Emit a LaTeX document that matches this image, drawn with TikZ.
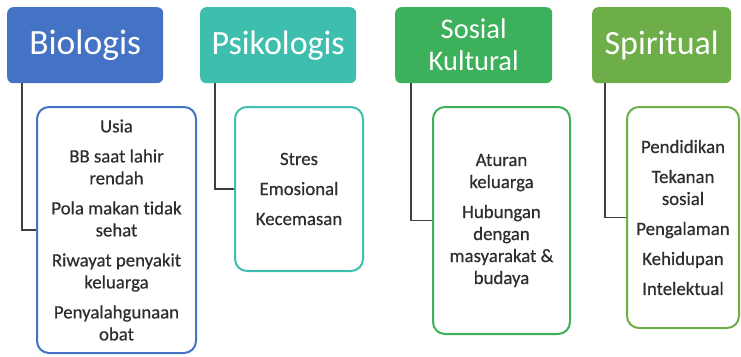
\documentclass[tikz,border=0pt]{standalone}
\usepackage{fontspec}
\setmainfont{Carlito}[RawFeature=-liga]
\newfontfamily\bodyfont{Carlito}[RawFeature=-liga, FakeBold=0.5]
\begin{document}
\begin{tikzpicture}[x=1pt,y=-1pt,
  hdr/.style={draw=none, fill=#1, rounded corners=6pt, text=white, anchor=north west, inner sep=0pt, align=center},
  sub/.style={draw=#1, line width=2pt, fill=white, rounded corners=12pt, anchor=north west, inner sep=0pt, align=center, text=textc, font=\bodyfont\fontsize{18.8}{22}\selectfont},
  conn/.style={draw=linec, line width=1.5pt}]
\definecolor{cbio}{HTML}{4472C4}
\definecolor{cpsi}{HTML}{3EBFAE}
\definecolor{csos}{HTML}{3CB05A}
\definecolor{cspi}{HTML}{6DAE48}
\definecolor{textc}{HTML}{2E2E2E}
\definecolor{linec}{HTML}{404040}
\useasboundingbox (0,0) rectangle (741,356);
% headers
\node[hdr=cbio, minimum width=156pt, minimum height=76pt, font=\fontsize{35.5}{38}\selectfont] (bio) at (7,7) {Biologis};
\node[hdr=cpsi, minimum width=156pt, minimum height=76pt, font=\fontsize{34}{38}\selectfont] (psi) at (200,7) {Psikologis};
\node[hdr=csos, minimum width=157pt, minimum height=76pt, font=\fontsize{28.5}{32}\selectfont] (sos) at (395,7) {Sosial\\Kultural};
\node[hdr=cspi, minimum width=139pt, minimum height=76pt, font=\fontsize{34}{38}\selectfont] (spi) at (592,7) {Spiritual};
% children
\node[sub=cbio, minimum width=159pt, minimum height=246pt] (bioc) at (36,106)
  {Usia\\[8pt]BB saat lahir\\rendah\\[8pt]Pola makan tidak\\sehat\\[8pt]Riwayat penyakit\\keluarga\\[8pt]Penyalahgunaan\\obat};
\node[sub=cpsi, minimum width=128pt, minimum height=164pt] (psic) at (234,106)
  {Stres\\[8pt]Emosional\\[8pt]Kecemasan};
\node[sub=csos, minimum width=137pt, minimum height=227pt] (sosc) at (432,106)
  {Aturan\\keluarga\\[8pt]Hubungan\\dengan\\masyarakat \&\\budaya};
\node[sub=cspi, minimum width=112pt, minimum height=221pt] (spic) at (626,106)
  {Pendidikan\\[8pt]Tekanan\\sosial\\[8pt]Pengalaman\\[8pt]Kehidupan\\[8pt]Intelektual};
% connectors
\draw[conn] ([xshift=15pt]bio.south west) |- (bioc.west);
\draw[conn] ([xshift=15pt]psi.south west) |- (psic.west);
\draw[conn] ([xshift=16pt]sos.south west) |- (sosc.west);
\draw[conn] ([xshift=13pt]spi.south west) |- (spic.west);
\end{tikzpicture}
\end{document}
